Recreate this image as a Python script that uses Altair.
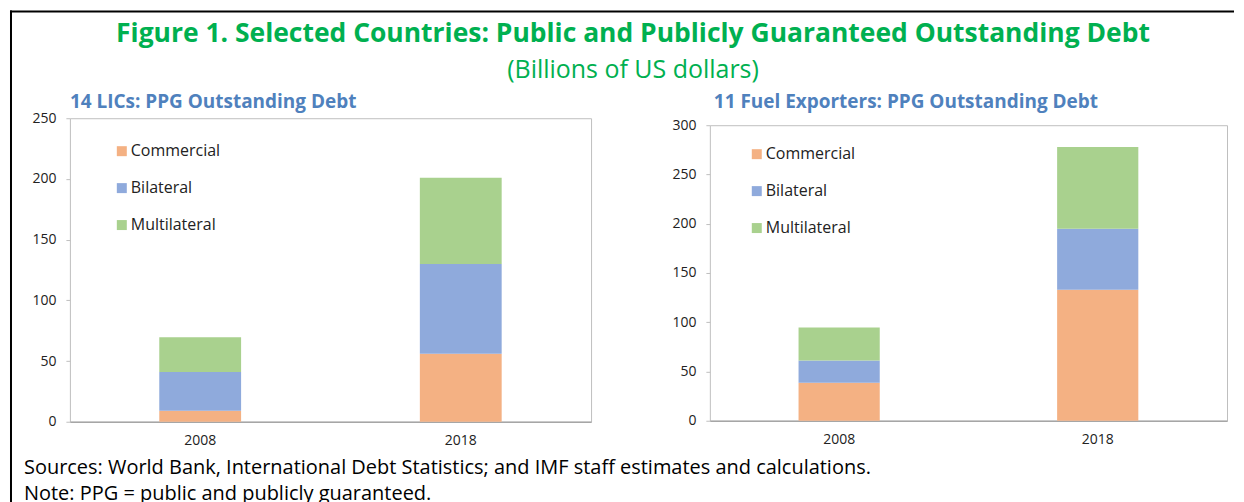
import altair as alt
import pandas as pd

years = ["2008", "2018"]
categories = ["Commercial", "Bilateral", "Multilateral"]
colors = ["#F4B183", "#8FAADC", "#A9D18E"]

lic_commercial = [9, 56]
lic_bilateral = [32, 74]
lic_multilateral = [28.5, 71]

fuel_commercial = [38.5, 133]
fuel_bilateral = [22.7, 62]
fuel_multilateral = [33.5, 83]

lic_ticks = [0, 50, 100, 150, 200, 250]
fuel_ticks = [0, 50, 100, 150, 200, 250, 300]

main_title = "Figure 1. Selected Countries: Public and Publicly Guaranteed Outstanding Debt"
main_subtitle = "(Billions of US dollars)"
lic_title = "14 LICs: PPG Outstanding Debt"
fuel_title = "11 Fuel Exporters: PPG Outstanding Debt"
footnotes = [
    "Sources: World Bank, International Debt Statistics; and IMF staff estimates and calculations.",
    "Note: PPG = public and publicly guaranteed.",
]

FONT = "Open Sans"
GREEN = "#00B050"
BLUE = "#4F81BD"
TEXT = "#222222"


def make_df(com, bil, mul):
    rows = []
    for i, y in enumerate(years):
        for k, (cat, vals) in enumerate(zip(categories, [com, bil, mul])):
            rows.append({"year": y, "category": cat, "value": vals[i], "order": k})
    return pd.DataFrame(rows)


def bars(df, ticks, lx, ly):
    return alt.Chart(df).mark_bar().encode(
        x=alt.X(
            "year:N",
            title=None,
            scale=alt.Scale(paddingInner=0.686, paddingOuter=0.343),
            axis=alt.Axis(labelAngle=0, ticks=False, domainColor="#A6A6A6", domainWidth=1.5,
                          labelFontSize=14, labelPadding=12, labelColor=TEXT, labelFont=FONT),
        ),
        y=alt.Y(
            "value:Q",
            title=None,
            stack="zero",
            scale=alt.Scale(domain=[0, max(ticks)], nice=False),
            axis=alt.Axis(values=ticks, domain=False, grid=False, tickColor="#BFBFBF", tickSize=4,
                          labelPadding=10, labelFontSize=14, labelColor=TEXT, labelFont=FONT),
        ),
        color=alt.Color(
            "category:N",
            scale=alt.Scale(domain=categories, range=colors),
            legend=alt.Legend(title=None, orient="none", legendX=lx, legendY=ly, symbolType="square",
                              symbolSize=100, symbolStrokeWidth=0, symbolOpacity=1, labelFontSize=16,
                              labelFont=FONT, labelColor=TEXT, rowPadding=21, labelOffset=1, padding=0),
        ),
        order=alt.Order("order:Q"),
    )


one = pd.DataFrame({"k": [0]})

border_v = alt.Chart(one).mark_rule(color="black", strokeWidth=2).encode(
    x=alt.value(-59), y=alt.value(-108), y2=alt.value(392))
border_h = alt.Chart(one).mark_rule(color="black", strokeWidth=2).encode(
    x=alt.value(-60), x2=alt.value(1166), y=alt.value(-107))
t_main = alt.Chart(one).mark_text(text=main_title, font=FONT, fontSize=26.5, fontWeight="bold", color=GREEN,
                                  align="center", baseline="middle").encode(x=alt.value(564), y=alt.value(-84))
t_sub = alt.Chart(one).mark_text(text=main_subtitle, font=FONT, fontSize=25, color=GREEN,
                                 align="center", baseline="middle").encode(x=alt.value(564), y=alt.value(-48))
t_left = alt.Chart(one).mark_text(text=lic_title, font=FONT, fontSize=19, fontWeight="bold", color=BLUE,
                                  align="left", baseline="middle").encode(x=alt.value(0), y=alt.value(-16))
t_right = alt.Chart(one).mark_text(text=fuel_title, font=FONT, fontSize=19, fontWeight="bold", color=BLUE,
                                   align="left", baseline="middle").encode(x=alt.value(645), y=alt.value(-16))
f1 = alt.Chart(one).mark_text(text=footnotes[0], font=FONT, fontSize=20, color="black",
                              align="left", baseline="middle").encode(x=alt.value(-46), y=alt.value(350))
f2 = alt.Chart(one).mark_text(text=footnotes[1], font=FONT, fontSize=20, color="black",
                              align="left", baseline="middle").encode(x=alt.value(-46), y=alt.value(376))

left = alt.layer(
    bars(make_df(lic_commercial, lic_bilateral, lic_multilateral), lic_ticks, 44, 25),
    border_v, border_h, t_main, t_sub, t_left, t_right, f1, f2,
).properties(width=522, height=304)

right = bars(make_df(fuel_commercial, fuel_bilateral, fuel_multilateral), fuel_ticks, 39, 28).properties(
    width=518, height=296)

spacer = alt.Chart(one).mark_point(opacity=0).properties(
    width=518, height=7, view=alt.ViewBackground(stroke="transparent"))

right_col = alt.vconcat(spacer, right, spacing=0, bounds="flush")

chart = alt.hconcat(left, right_col, spacing=119, bounds="flush").resolve_legend(
    color="independent"
).properties(padding=0).configure(font=FONT).configure_view(stroke="#BFBFBF", strokeWidth=1)

chart.save("out.html", embed_options={"renderer": "svg", "actions": False})
